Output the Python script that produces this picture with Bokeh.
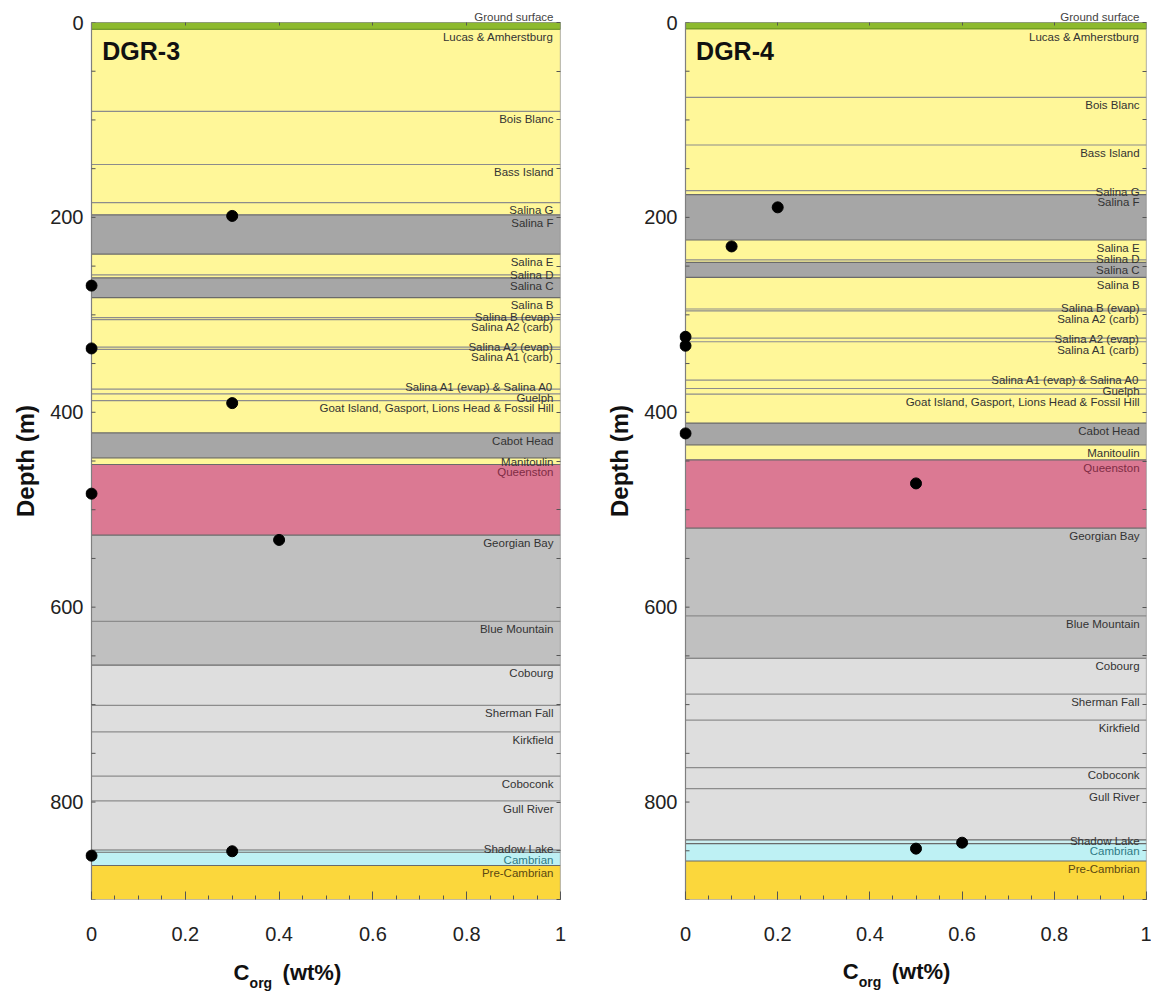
from bokeh.plotting import figure
from bokeh.layouts import row, column
from bokeh.models import Range1d, LinearAxis, FixedTicker, CustomJSTickFormatter
from bokeh.embed import file_html
from bokeh.resources import INLINE
from bokeh.core.properties import value

FONT = "Liberation Sans"
DEPTH_MAX = 900
MAIN_H = 957
CAPTION_H = 40

# Stratigraphic units, top-down (same column for both boreholes)
units = [
    "Ground surface", "Lucas & Amherstburg", "Bois Blanc", "Bass Island", "Salina G",
    "Salina F", "Salina E", "Salina D", "Salina C", "Salina B", "Salina B (evap)",
    "Salina A2 (carb)", "Salina A2 (evap)", "Salina A1 (carb)",
    "Salina A1 (evap) & Salina A0", "Guelph",
    "Goat Island, Gasport, Lions Head & Fossil Hill", "Cabot Head", "Manitoulin",
    "Queenston", "Georgian Bay", "Blue Mountain", "Cobourg", "Sherman Fall",
    "Kirkfield", "Coboconk", "Gull River", "Shadow Lake", "Cambrian", "Pre-Cambrian",
]

# Lithology class of each unit
lithology = [
    "ground", "carb", "carb", "carb", "carb",
    "dkshale", "carb", "carb", "dkshale", "carb", "carb",
    "carb", "carb", "carb",
    "carb", "carb",
    "carb", "dkshale", "carb",
    "redshale", "shale", "shale", "lime", "lime",
    "lime", "lime", "lime", "sand2", "sand", "basement",
]

# Formation tops (m below ground)
dgr3_tops = [0, 7.0, 91.3, 145.7, 184.9, 197.4, 237.6, 259.0, 262.0, 282.4, 302.9,
             304.9, 333.2, 335.5, 376.3, 381.1, 388.0, 421.2, 446.7, 453.6, 526.0,
             614.5, 659.4, 700.8, 728.0, 773.3, 798.8, 849.2, 851.5, 865.1]
dgr4_tops = [0, 6.6, 76.8, 125.7, 172.6, 176.7, 223.2, 243.7, 246.2, 261.6, 294.0,
             296.0, 323.8, 327.6, 367.0, 375.6, 381.3, 411.1, 433.4, 448.8, 518.9,
             609.0, 652.4, 689.3, 716.0, 764.7, 786.3, 838.9, 842.7, 860.5]

# Organic carbon measurements
dgr3_corg = [0.3, 0.0, 0.0, 0.3, 0.0, 0.4, 0.3, 0.0]
dgr3_depth = [198.5, 270.0, 334.5, 390.6, 483.5, 531.0, 850.5, 855.0]
dgr4_corg = [0.2, 0.1, 0.0, 0.0, 0.0, 0.5, 0.5, 0.6]
dgr4_depth = [189.7, 229.8, 322.5, 331.7, 421.7, 473.0, 847.8, 841.7]

x_ticks = [0, 0.2, 0.4, 0.6, 0.8, 1]
depth_ticks = [0, 200, 400, 600, 800]

FILL = {
    "ground": "#8DBA2E", "carb": "#FFF799", "dkshale": "#A6A6A6",
    "redshale": "#DB7993", "shale": "#C0C0C0", "lime": "#DEDEDE",
    "sand2": "#CBEFF1", "sand": "#BEF1F4", "basement": "#FBD73C",
}
LABEL_COLOR = {"redshale": "#7E2C44", "sand": "#2F7A84", "basement": "#5A4712"}


def label_depths(tops, offset=8.0, gap=11.0):
    """Place each name just below its top, pushing names up where units are thin."""
    ys = [t + offset for t in tops[1:]]
    for i in range(len(ys) - 2, -1, -1):
        ys[i] = min(ys[i], ys[i + 1] - gap)
    return ys


def panel(name, tops, corg, depth, width, bl, br, bt, bb, frame_w):
    pad = 6.0 / frame_w
    p = figure(width=width, height=MAIN_H, output_backend="svg", toolbar_location=None,
               x_range=Range1d(-pad, 1), y_range=Range1d(DEPTH_MAX, 0),
               min_border_left=bl, min_border_right=br, min_border_top=bt,
               min_border_bottom=bb)
    p.outline_line_color = None
    p.grid.grid_line_color = None
    p.background_fill_color = "white"

    # "Ground surface" sits above the column
    p.title.text = units[0]
    p.title.align = "right"
    p.title.offset = 7
    p.title.standoff = 0
    p.title.text_font = FONT
    p.title.text_font_size = "11.5px"
    p.title.text_font_style = "normal"
    p.title.text_color = "#444444"

    bottoms = tops[1:] + [DEPTH_MAX]
    fills = [FILL[l] for l in lithology]
    p.quad(left=0, right=1, top=tops[1:], bottom=bottoms[1:], fill_color=fills[1:],
           line_color=None)
    # ground surface strip
    p.quad(left=0, right=1, top=tops[0], bottom=bottoms[0], fill_color=fills[0],
           line_color="#5E8A1A", line_width=1)

    # unit boundaries
    y_b, c_b = [], []
    for i in range(2, len(tops)):
        y_b.append(tops[i])
        c_b.append("#8C8C8C" if lithology[i] == lithology[i - 1] else "#6A6A6A")
    p.segment(x0=0, x1=1, y0=y_b, y1=y_b, line_color=c_b, line_width=1.2)

    # frame
    p.quad(left=0, right=1, top=0, bottom=DEPTH_MAX, fill_color=None,
           line_color="#7F7F7F", line_width=1.2)

    # inward depth ticks on the left edge
    minor = list(range(0, DEPTH_MAX + 1, 50))
    p.segment(x0=0, x1=4.0 / frame_w, y0=minor, y1=minor, line_color="#555555", line_width=1)

    # unit names
    ly = label_depths(tops)
    lc = [LABEL_COLOR.get(l, "#333333") for l in lithology[1:]]
    p.text(x=[0.985] * len(ly), y=ly, text=units[1:], text_align="right",
           text_baseline="middle", text_font=value(FONT), text_font_size="11.5px",
           text_color=lc)

    # borehole name
    p.text(x=[0.023], y=[29], text=[name], text_align="left", text_baseline="middle",
           text_font=value(FONT), text_font_size="25px", text_font_style="bold",
           text_color="#111111")

    # measurements
    p.scatter(x=corg, y=depth, size=11, color="black")

    # bottom axis
    xa = p.xaxis[0]
    xa.ticker = FixedTicker(ticks=x_ticks,
                            minor_ticks=[round(0.05 * i, 2) for i in range(21)])
    xa.formatter = CustomJSTickFormatter(code="return String(Math.round(tick*100)/100)")
    xa.major_tick_in = 8
    xa.major_tick_out = 0
    xa.minor_tick_in = 4
    xa.minor_tick_out = 0
    xa.axis_line_color = None
    xa.major_tick_line_color = "#555555"
    xa.minor_tick_line_color = "#555555"
    xa.major_label_standoff = 27
    xa.major_label_text_font = FONT
    xa.major_label_text_font_size = "20px"
    xa.major_label_text_color = "#222222"

    # left axis
    ya = p.yaxis[0]
    ya.ticker = FixedTicker(ticks=depth_ticks, minor_ticks=[])
    ya.major_tick_in = 0
    ya.major_tick_out = 0
    ya.minor_tick_in = 0
    ya.minor_tick_out = 0
    ya.axis_line_color = None
    ya.major_label_standoff = 2
    ya.major_label_text_font = FONT
    ya.major_label_text_font_size = "20px"
    ya.major_label_text_color = "#222222"
    ya.axis_label = "Depth (m)"
    ya.axis_label_text_font = FONT
    ya.axis_label_text_font_size = "24px"
    ya.axis_label_text_font_style = "bold"
    ya.axis_label_text_color = "#111111"
    ya.axis_label_standoff = 8

    # right and top edge ticks
    ra = LinearAxis(ticker=FixedTicker(ticks=minor, minor_ticks=[]))
    ra.major_tick_in = 4
    ra.major_tick_out = 0
    ra.axis_line_color = None
    ra.major_tick_line_color = "#555555"
    ra.major_label_text_font_size = "0px"
    ra.major_label_standoff = 0
    p.add_layout(ra, "right")

    ta = LinearAxis(ticker=FixedTicker(ticks=[0.2, 0.4, 0.6, 0.8], minor_ticks=[]))
    ta.major_tick_in = 3
    ta.major_tick_out = 0
    ta.axis_line_color = None
    ta.major_tick_line_color = "#555555"
    ta.major_label_text_font_size = "0px"
    ta.major_label_standoff = 0
    p.add_layout(ta, "above")
    return p


def caption(width, x0, base):
    """x-axis title with a subscript, drawn as a strip under the column."""
    c = figure(width=width, height=CAPTION_H, output_backend="svg", toolbar_location=None,
               x_range=Range1d(0, width), y_range=Range1d(CAPTION_H, 0),
               x_axis_type=None, y_axis_type=None, min_border=0)
    c.outline_line_color = None
    c.grid.grid_line_color = None
    common = dict(text_align="left", text_baseline="alphabetic", text_font=value(FONT),
                  text_font_style="bold", text_color="#111111")
    c.text(x=[x0], y=[base], text=["C"], text_font_size="22px", **common)
    c.text(x=[x0 + 16], y=[base + 10.5], text=["org"], text_font_size="14px", **common)
    c.text(x=[x0 + 49], y=[base], text=["(wt%)"], text_font_size="22px", **common)
    return c


p1 = panel("DGR-3", dgr3_tops, dgr3_corg, dgr3_depth, width=600,
           bl=85, br=40, bt=20, bb=MAIN_H - 902, frame_w=469)
p2 = panel("DGR-4", dgr4_tops, dgr4_corg, dgr4_depth, width=551,
           bl=79, br=5, bt=22, bb=MAIN_H - 899, frame_w=461)
c1 = caption(600, 91 + 0.303 * 469, 972.0 - MAIN_H)
c2 = caption(551, 85 + 0.341 * 461, 970.5 - MAIN_H)

layout = column(row(p1, p2), row(c1, c2))
open("out.html", "w").write(file_html(layout, INLINE))
